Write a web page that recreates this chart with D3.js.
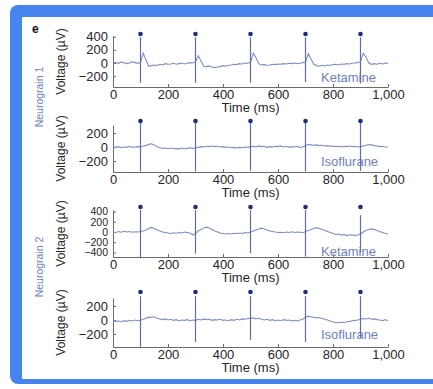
<!DOCTYPE html>
<html>
<head>
<meta charset="utf-8">
<script src="https://cdn.jsdelivr.net/npm/d3@7"></script>
<style>
  html, body { margin: 0; padding: 0; background: #fff; }
  svg { display: block; font-family: "Liberation Sans", Arial, sans-serif; }
</style>
</head>
<body>
<svg id="chart" width="433" height="389"></svg>
<script>
// time base (ms) for every trace, one sample per 10 ms
const TIMES = d3.range(0, 1001, 10);
const X_TICKS = [0, 200, 400, 600, 800, 1000];
const SPIKE_TIMES = [100, 300, 500, 700, 900];

// Neurograin 1, ketamine
const ng1Ketamine = [
  0, 10, -5, 15, 5, -10, 0, 20, 5, -5,
  10, 150, 40, -50, -40, -30, -40, -20, -30, -10,
  -20, -15, -5, -20, -10, 0, -15, -5, 5, 0,
  20, 110, 30, -50, -55, -45, -60, -70, -60, -55,
  -40, -50, -35, -30, -20, -25, -10, -15, 0, -5,
  10, 150, 80, -10, -30, -25, -35, -30, -20, -25,
  -15, -20, -10, -15, -5, -10, 0, -10, -5, 5,
  15, 140, 60, -20, -40, -50, -35, -45, -30, -35,
  -25, -20, -30, -15, -20, -10, -15, -5, 0, 5,
  20, 150, 90, 0, -20, -10, -20, -5, -15, 0,
  -10
];
// Neurograin 1, isoflurane
const ng1Isoflurane = [
  0, -5, 5, -10, 0, -5, 10, -5, 0, 5,
  0, 15, 20, 40, 45, 30, 5, -10, -20, -15,
  -25, -15, -25, -20, -30, -15, -25, -20, -10, -20,
  -15, -5, 5, 0, 10, 5, 15, 5, 10, 0,
  5, -5, 0, -10, -5, -15, -5, -10, 0, -5,
  5, 10, 0, 15, 5, 10, -5, 5, 0, 10,
  5, 15, 0, 10, -5, 5, 0, 10, -5, 0,
  20, 35, 30, 25, 30, 20, 25, 15, 20, 10,
  15, 5, 10, 0, 10, 5, 15, 5, 10, 0,
  5, 15, 25, 35, 30, 20, 15, 5, 10, 0,
  0
];
// Neurograin 2, ketamine
const ng2Ketamine = [
  0, -10, 10, -5, 15, 0, 10, -5, 5, 0,
  10, 20, 40, 70, 90, 70, 40, 20, 0, -10,
  -20, -30, -15, -25, -10, -20, 0, -10, -20, -60,
  -30, 20, 50, 80, 95, 80, 50, 20, 0, -20,
  -30, -40, -30, -40, -25, -35, -20, -30, -10, -20,
  0, 20, 40, 60, 75, 60, 40, 20, 10, 0,
  -10, -5, -15, 0, -10, 5, -10, 0, -5, -15,
  10, 30, 50, 70, 85, 70, 50, 30, 10, -10,
  -30, -50, -40, -60, -50, -70, -60, -55, -70, -60,
  -40, 0, 30, 50, 60, 50, 30, 10, -10, -30,
  -40
];
// Neurograin 2, isoflurane
const ng2Isoflurane = [
  -10, -20, -15, -25, -10, -20, -5, -15, 0, -10,
  -5, 10, 25, 40, 35, 45, 25, 15, 5, 15,
  0, 10, -5, 5, -10, 0, -5, 5, -10, 0,
  -5, 10, 0, 15, 5, 10, -5, 5, 0, 10,
  -5, 0, -10, 5, -5, 10, 0, 15, 10, 20,
  25, 30, 15, 25, 10, 0, 10, -5, 5, -10,
  0, -10, 5, -5, 0, -15, -5, -10, 0, 10,
  40, 55, 45, 40, 30, 35, 20, 10, 0, -15,
  -30, -35, -40, -30, -35, -25, -20, -10, -5, 0,
  10, 20, 15, 25, 10, 15, 5, 0, -10, 5,
  -15
];

// spike extents (µV) for each stimulus, per panel
const spikeHigh = [
  [390, 390, 390, 390, 390],
  [345, 340, 345, 345, 345],
  [430, 430, 430, 430, 330],
  [340, 340, 340, 340, 340]
];
const spikeLow = [
  [-300, -300, -300, -290, -310],
  [-350, -350, -340, -350, -340],
  [-490, -420, -410, -480, -400],
  [-385, -315, -285, -315, -255]
];

const conditions = ["Ketamine", "Isoflurane", "Ketamine", "Isoflurane"];
const groups = ["Neurograin 1", "Neurograin 2"];
const yTicks = [
  [-200, 0, 200, 400],
  [-200, 0, 200],
  [-400, -200, 0, 200, 400],
  [-200, 0, 200]
];
const yDomains = [
  [-365, 410],
  [-357, 314],
  [-488, 429],
  [-386, 314]
];
const traces = [ng1Ketamine, ng1Isoflurane, ng2Ketamine, ng2Isoflurane];

// layout, px
const X0 = 113, X1 = 388;
const panelLayout = [
  { top: 36, bottom: 87, dot: 34, label: 82, tickFont: 13 },
  { top: 125, bottom: 172, dot: 121, label: 166, tickFont: 13 },
  { top: 210, bottom: 257, dot: 207, label: 256, tickFont: 10.5 },
  { top: 298, bottom: 347, dot: 292, label: 339, tickFont: 13 }
];
const groupLabelY = [97, 267];

const TRACE = "#7d8dc9";
const SPIKE = "#5a6db0";
const DOT = "#1f2c78";
const LABEL = "#6e7fc2";
const AXIS = "#6a6a6a";
const TEXT = "#262626";

const svg = d3.select("#chart");

// blue frame
svg.append("rect")
  .attr("x", 10).attr("y", 5)
  .attr("width", 460).attr("height", 379)
  .attr("rx", 8)
  .attr("fill", "#4684f0");
svg.append("rect")
  .attr("x", 22).attr("y", 17)
  .attr("width", 440).attr("height", 362)
  .attr("fill", "#fff");

svg.append("text")
  .attr("x", 32).attr("y", 33)
  .attr("font-size", 12).attr("font-weight", "bold")
  .attr("fill", "#111")
  .text("e");

const x = d3.scaleLinear().domain([0, 1000]).range([X0, X1]);

panelLayout.forEach((p, i) => {
  const y = d3.scaleLinear().domain(yDomains[i]).range([p.bottom, p.top]);
  const g = svg.append("g").attr("class", "panel");

  // axes
  const yAxis = g.append("g")
    .attr("transform", `translate(${X0},0)`)
    .call(d3.axisLeft(y).tickValues(yTicks[i]).tickSizeInner(-3).tickSizeOuter(0).tickPadding(5));
  const xAxis = g.append("g")
    .attr("transform", `translate(0,${p.bottom})`)
    .call(d3.axisBottom(x).tickValues(X_TICKS).tickFormat(d3.format(",")).tickSizeInner(-3).tickSizeOuter(0).tickPadding(3));
  [yAxis, xAxis].forEach(a => {
    a.select(".domain").attr("stroke", AXIS);
    a.selectAll(".tick line").attr("stroke", AXIS);
    a.selectAll(".tick text")
      .attr("fill", TEXT)
      .attr("font-size", 13)
      .attr("font-family", "'Liberation Sans', Arial, sans-serif");
  });
  yAxis.selectAll(".tick text").attr("font-size", p.tickFont);

  g.append("text")
    .attr("x", (X0 + X1) / 2).attr("y", p.bottom + 25)
    .attr("text-anchor", "middle")
    .attr("font-size", 13).attr("fill", TEXT)
    .text("Time (ms)");

  g.append("text")
    .attr("transform", `translate(61,${(p.top + p.bottom) / 2}) rotate(-90)`)
    .attr("text-anchor", "middle").attr("dy", "0.35em")
    .attr("font-size", 12).attr("fill", TEXT)
    .text("Voltage (\u00b5V)");

  g.append("text")
    .attr("x", 321).attr("y", p.label)
    .attr("font-size", 13).attr("fill", LABEL)
    .text(conditions[i]);

  // trace
  const line = d3.line()
    .x((d, j) => x(TIMES[j]))
    .y(d => y(d));
  g.append("path")
    .datum(traces[i])
    .attr("fill", "none")
    .attr("stroke", TRACE)
    .attr("stroke-width", 1.1)
    .attr("d", line);

  // stimulus spikes + markers
  g.selectAll(".spike")
    .data(SPIKE_TIMES)
    .enter()
    .append("line")
    .attr("class", "spike")
    .attr("x1", d => x(d)).attr("x2", d => x(d))
    .attr("y1", (d, j) => y(spikeHigh[i][j]))
    .attr("y2", (d, j) => y(spikeLow[i][j]))
    .attr("stroke", SPIKE)
    .attr("stroke-width", 1.2);

  g.selectAll(".dot")
    .data(SPIKE_TIMES)
    .enter()
    .append("circle")
    .attr("class", "dot")
    .attr("cx", d => x(d))
    .attr("cy", p.dot)
    .attr("r", 2.3)
    .attr("fill", DOT);
});

groups.forEach((name, k) => {
  svg.append("text")
    .attr("transform", `translate(39,${groupLabelY[k]}) rotate(-90)`)
    .attr("text-anchor", "middle").attr("dy", "0.35em")
    .attr("font-size", 10.5).attr("fill", LABEL)
    .text(name);
});
</script>
</body>
</html>
